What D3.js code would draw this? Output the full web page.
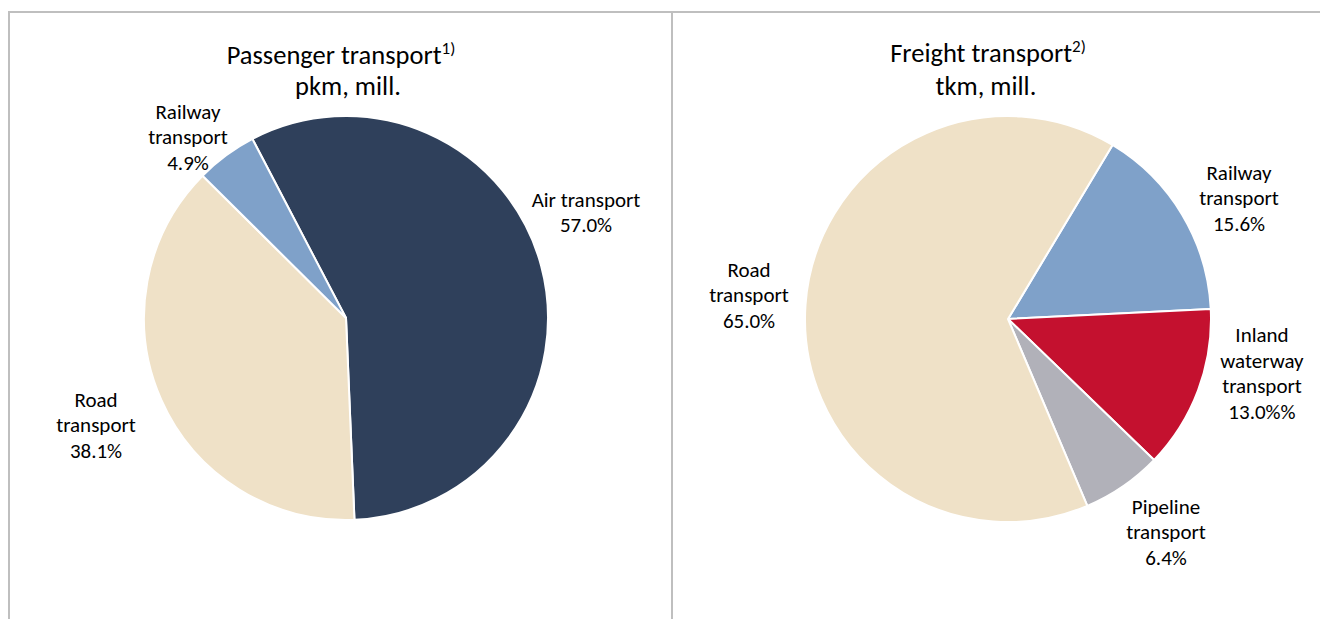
<!DOCTYPE html>
<html><head><meta charset="utf-8">
<script src="https://cdn.jsdelivr.net/npm/d3@7"></script>
<style>body{margin:0;background:#fff}svg{display:block}</style>
</head><body>
<svg id="c" width="1320" height="619"></svg>
<script>
// Passenger transport (pkm, mill.) shares, %
const passengerCategories = ["Air transport", "Road transport", "Railway transport"];
const passengerValues = [57.0, 38.1, 4.9];
const passengerLabels = [["Air transport", "57.0%"], ["Road", "transport", "38.1%"], ["Railway", "transport", "4.9%"]];
// Freight transport (tkm, mill.) shares, %
const freightCategories = ["Railway transport", "Inland waterway transport", "Pipeline transport", "Road transport"];
const freightValues = [15.6, 13.0, 6.4, 65.0];
const freightLabels = [["Railway", "transport", "15.6%"], ["Inland", "waterway", "transport", "13.0%%"], ["Pipeline", "transport", "6.4%"], ["Road", "transport", "65.0%"]];

const colors = {
  "Air transport": "#2f405b",
  "Road transport": "#efe1c7",
  "Railway transport": "#7fa1c9",
  "Inland waterway transport": "#c4112f",
  "Pipeline transport": "#b1b1b9"
};
const FONT = "Carlito, Calibri, Lato, 'Open Sans', sans-serif";
const svg = d3.select("#c");

// panel frames
const g0 = svg.append("g").attr("stroke", "#bfbfbf").attr("stroke-width", 2);
g0.append("line").attr("x1", 8).attr("y1", 12).attr("x2", 1320).attr("y2", 12);
g0.append("line").attr("x1", 9).attr("y1", 12).attr("x2", 9).attr("y2", 619);
g0.append("line").attr("x1", 672).attr("y1", 12).attr("x2", 672).attr("y2", 619);

function drawPie(opt) {
  const g = svg.append("g").attr("transform", `translate(${opt.cx},${opt.cy})`);
  const pie = d3.pie().sort(null).value(d => d.v)
    .startAngle(opt.start * Math.PI / 180).endAngle(opt.start * Math.PI / 180 + 2 * Math.PI);
  const arc = d3.arc().innerRadius(0).outerRadius(opt.r);
  const data = opt.cats.map((c, i) => ({c, v: opt.vals[i], lab: opt.labels[i], pos: opt.labelPos[i]}));
  g.selectAll("path").data(pie(data)).join("path")
    .attr("d", arc).attr("fill", d => colors[d.data.c])
    .attr("stroke", "#fff").attr("stroke-width", 2).attr("stroke-linejoin", "round");
  // labels
  data.forEach(d => {
    const n = d.lab.length;
    const t = svg.append("text").attr("text-anchor", "middle")
      .attr("font-family", FONT).attr("font-size", 21).attr("fill", "#000");
    d.lab.forEach((s, i) => {
      t.append("tspan").attr("x", d.pos[0])
        .attr("y", d.pos[1] + (i - (n - 1) / 2) * 25.5).attr("dy", "0.35em").text(s);
    });
  });
  // title
  const tt = svg.append("text").attr("text-anchor", "middle").attr("font-family", FONT)
    .attr("font-size", 26.5).attr("fill", "#000");
  tt.append("tspan").attr("x", opt.title[0]).attr("y", opt.title[1]).text(opt.titleText);
  tt.append("tspan").attr("dy", -10).attr("font-size", 17).text(opt.sup);
  svg.append("text").attr("text-anchor", "middle").attr("font-family", FONT)
    .attr("font-size", 26.5).attr("fill", "#000")
    .attr("x", opt.title2[0]).attr("y", opt.title2[1]).text(opt.sub);
}

drawPie({cx: 346, cy: 318, r: 202, start: -27.6,
  cats: passengerCategories, vals: passengerValues, labels: passengerLabels,
  labelPos: [[586, 212], [96, 425], [188, 137]],
  title: [341, 64], title2: [348, 95], titleText: "Passenger transport", sup: "1)", sub: "pkm, mill."});

drawPie({cx: 1008, cy: 319, r: 203, start: 31.0,
  cats: freightCategories, vals: freightValues, labels: freightLabels,
  labelPos: [[1239, 198], [1262, 373], [1166, 532], [749, 295]],
  title: [988, 62], title2: [986, 95], titleText: "Freight transport", sup: "2)", sub: "tkm, mill."});
</script>
</body></html>
